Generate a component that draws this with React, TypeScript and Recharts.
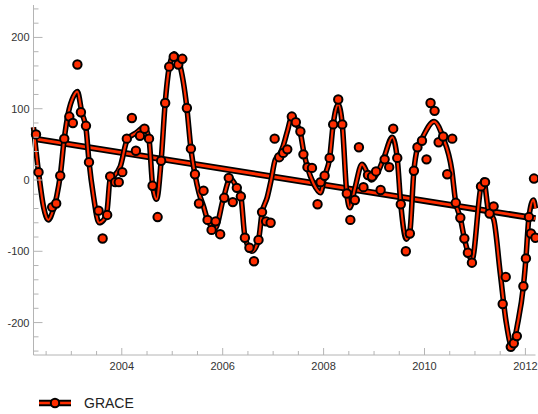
import React from 'react';
import { ComposedChart, Line, Scatter, XAxis, YAxis } from 'recharts';

const RED = '#ff2d00';
const AXIS = '#b4b4b4';
const FONT = '"Liberation Sans", Arial, Helvetica, sans-serif';

// GRACE monthly values
const graceYears = [
  2002.30, 2002.35, 2002.62, 2002.70, 2002.78, 2002.86, 2002.96, 2003.03, 2003.12, 2003.19,
  2003.29, 2003.35, 2003.54, 2003.62, 2003.71, 2003.77, 2003.87, 2003.94, 2004.01, 2004.10,
  2004.20, 2004.28, 2004.36, 2004.45, 2004.54, 2004.61, 2004.71, 2004.78, 2004.86, 2004.94,
  2005.03, 2005.12, 2005.20, 2005.29, 2005.37, 2005.45, 2005.53, 2005.62, 2005.70, 2005.78,
  2005.86, 2005.95, 2006.03, 2006.12, 2006.20, 2006.28, 2006.36, 2006.44, 2006.53, 2006.62,
  2006.71, 2006.78, 2006.86, 2006.95, 2007.03, 2007.12, 2007.20, 2007.28, 2007.37, 2007.45,
  2007.54, 2007.60, 2007.68, 2007.77, 2007.88, 2007.94, 2008.02, 2008.12, 2008.19, 2008.29,
  2008.37, 2008.46, 2008.53, 2008.62, 2008.70, 2008.79, 2008.88, 2008.96, 2009.04, 2009.13,
  2009.21, 2009.30, 2009.38, 2009.46, 2009.53, 2009.63, 2009.71, 2009.79, 2009.86, 2009.95,
  2010.04, 2010.12, 2010.20, 2010.28, 2010.37, 2010.45, 2010.55, 2010.62, 2010.71, 2010.79,
  2010.86, 2010.94, 2011.12, 2011.20, 2011.29, 2011.37, 2011.55, 2011.61, 2011.71, 2011.77,
  2011.83, 2011.96, 2012.01, 2012.07, 2012.11, 2012.17, 2012.20,
];
const graceValues = [
  64, 11, -38, -33, 6, 58, 89, 80, 162, 95,
  76, 25, -43, -82, -49, 5, -3, -3, 11, 58,
  87, 41, 62, 72, 58, -8, -52, 27, 108, 159,
  173, 162, 170, 101, 44, 8, -33, -15, -56, -70,
  -58, -76, -25, 3, -31, -11, -23, -81, -95, -114,
  -84, -45, -58, -60, 58, 32, 38, 43, 89, 81,
  68, 36, 18, 17, -34, -3, 6, 31, 78, 113,
  78, -19, -56, -28, 46, -10, 7, 5, 12, -14,
  29, 18, 72, 31, -34, -100, -75, 13, 46, 55,
  29, 108, 97, 53, 61, 8, 58, -32, -53, -82,
  -102, -116, -9, -3, -47, -37, -174, -136, -234, -229,
  -219, -149, -110, -52, -75, 2, -81,
];

// smoothed curve
const fitYears = [
  2002.25, 2002.35, 2002.45, 2002.545, 2002.64, 2002.71, 2002.78, 2002.86, 2002.94, 2003.04,
  2003.12, 2003.21, 2003.29, 2003.35, 2003.44, 2003.55, 2003.64, 2003.71, 2003.77, 2003.85,
  2003.97, 2004.11, 2004.28, 2004.45, 2004.54, 2004.61, 2004.69, 2004.78, 2004.86, 2004.94,
  2005.04, 2005.14, 2005.29, 2005.37, 2005.45, 2005.53, 2005.62, 2005.70, 2005.85, 2006.01,
  2006.15, 2006.28, 2006.36, 2006.44, 2006.58, 2006.71, 2006.78, 2006.88, 2006.96, 2007.04,
  2007.12, 2007.20, 2007.28, 2007.37, 2007.45, 2007.54, 2007.61, 2007.68, 2007.80, 2007.94,
  2008.02, 2008.12, 2008.19, 2008.29, 2008.37, 2008.46, 2008.52, 2008.62, 2008.76, 2008.95,
  2009.08, 2009.20, 2009.36, 2009.46, 2009.53, 2009.64, 2009.71, 2009.79, 2009.86, 2009.95,
  2010.19, 2010.37, 2010.54, 2010.62, 2010.71, 2010.79, 2010.86, 2010.94, 2011.12, 2011.17,
  2011.27, 2011.37, 2011.50, 2011.62, 2011.73, 2011.85, 2011.96, 2012.01, 2012.07, 2012.16,
  2012.20,
];
const fitValues = [
  74, 11, -38, -56, -42, -23, 6, 58, 94, 117,
  124, 94, 73, 26, -23, -60, -56, -42, 2, 6,
  19, 57, 66, 74, 57, -7, -27, 27, 108, 158,
  177, 164, 101, 44, 8, -18, -37, -56, -68, -27,
  2, -11, -23, -79, -100, -84, -46, -25, 0, 28,
  35, 48, 68, 88, 80, 66, 38, 18, -5, -18,
  5, 31, 78, 106, 78, -19, -39, -12, 22, 0,
  12, 32, 60, 30, -34, -83, -72, 13, 45, 58,
  82, 59, 14, -32, -53, -82, -101, -112, -9, 0,
  -44, -55, -130, -200, -233, -200, -149, -110, -52, -28,
  -40,
];

// linear trend end points
const trendYears = [2002.25, 2012.2];
const trendValues = [58, -54];

const xTicks = [
  2002.5, 2003, 2003.5, 2004, 2004.5, 2005, 2005.5, 2006, 2006.5, 2007,
  2007.5, 2008, 2008.5, 2009, 2009.5, 2010, 2010.5, 2011, 2011.5, 2012,
];
const xLabels = [2004, 2006, 2008, 2010, 2012];
const yTicks = [
  -240, -220, -200, -180, -160, -140, -120, -100, -80, -60, -40, -20, 0,
  20, 40, 60, 80, 100, 120, 140, 160, 180, 200, 220, 240,
];
const yLabels = [-200, -100, 0, 100, 200];

const points = graceYears.map((x, i) => ({ x, y: graceValues[i] }));
const fit = fitYears.map((x, i) => ({ x, y: fitValues[i] }));
const trend = trendYears.map((x, i) => ({ x, y: trendValues[i] }));

const X_DOMAIN = [2002.25, 2012.2];
const Y_DOMAIN = [-245.5, 245.5];

const BottomTick = ({ x, y, payload }: any) => {
  const major = xLabels.includes(payload.value);
  return (
    <g>
      <line x1={x} y1={y} x2={x} y2={y - (major ? 7 : 4)} stroke={AXIS} />
      {major && (
        <text x={x} y={y + 15} textAnchor="middle" fontSize={11} fill="#333" fontFamily={FONT}>
          {payload.value}
        </text>
      )}
    </g>
  );
};

const TopTick = ({ x, y, payload }: any) => {
  const major = xLabels.includes(payload.value);
  return <line x1={x} y1={y} x2={x} y2={y + (major ? 7 : 4)} stroke={AXIS} />;
};

const LeftTick = ({ x, y, payload }: any) => {
  const major = yLabels.includes(payload.value);
  return (
    <g>
      <line x1={x} y1={y} x2={x + (major ? 9 : 5)} y2={y} stroke={AXIS} />
      {major && (
        <text x={x - 4} y={y + 4} textAnchor="end" fontSize={11} fill="#333" fontFamily={FONT}>
          {payload.value}
        </text>
      )}
    </g>
  );
};

const RightTick = ({ x, y, payload }: any) => {
  const major = yLabels.includes(payload.value);
  return <line x1={x} y1={y} x2={x - (major ? 9 : 5)} y2={y} stroke={AXIS} />;
};

const Dot = ({ cx, cy }: any) => (
  <circle cx={cx} cy={cy} r={4.2} fill={RED} stroke="#000" strokeWidth={2} />
);

export default function App() {
  return (
    <div style={{ position: 'absolute', left: 0, top: 0, width: 538, height: 414, background: '#fff' }}>
      <ComposedChart width={538} height={414} margin={{ top: 5, right: 2.5, bottom: 39, left: 0 }}>
        <XAxis
          type="number"
          dataKey="x"
          domain={X_DOMAIN}
          ticks={xTicks}
          interval={0}
          height={20}
          tickSize={0}
          tickMargin={0}
          tickLine={false}
          tick={<BottomTick />}
          axisLine={{ stroke: AXIS }}
        />
        <XAxis
          xAxisId="top"
          orientation="top"
          type="number"
          dataKey="x"
          domain={X_DOMAIN}
          allowDataOverflow
          ticks={xTicks}
          interval={0}
          height={0}
          tickSize={0}
          tickMargin={0}
          tickLine={false}
          tick={<TopTick />}
          axisLine={{ stroke: AXIS }}
        />
        <YAxis
          type="number"
          domain={Y_DOMAIN}
          ticks={yTicks}
          interval={0}
          width={33.5}
          tickSize={0}
          tickMargin={0}
          tickLine={false}
          tick={<LeftTick />}
          axisLine={{ stroke: AXIS }}
        />
        <YAxis
          yAxisId="right"
          orientation="right"
          type="number"
          domain={Y_DOMAIN}
          allowDataOverflow
          ticks={yTicks}
          interval={0}
          width={0}
          tickSize={0}
          tickMargin={0}
          tickLine={false}
          tick={<RightTick />}
          axisLine={{ stroke: AXIS }}
        />
        <Line data={trend} dataKey="y" type="linear" stroke="#000" strokeWidth={6.5} dot={false} isAnimationActive={false} />
        <Line data={trend} dataKey="y" type="linear" stroke={RED} strokeWidth={2.8} dot={false} isAnimationActive={false} />
        <Line data={fit} dataKey="y" type="monotone" stroke="#000" strokeWidth={5.5} dot={false} isAnimationActive={false} />
        <Line data={fit} dataKey="y" type="monotone" stroke={RED} strokeWidth={2.2} dot={false} isAnimationActive={false} />
        <Scatter data={points} dataKey="y" shape={<Dot />} isAnimationActive={false} />
      </ComposedChart>
      <svg width={160} height={24} style={{ position: 'absolute', left: 30, top: 391 }}>
        <line x1={9} y1={12} x2={41} y2={12} stroke="#000" strokeWidth={6.5} />
        <line x1={9} y1={12} x2={41} y2={12} stroke={RED} strokeWidth={2.6} />
        <circle cx={25} cy={12} r={4.2} fill={RED} stroke="#000" strokeWidth={2} />
        <text x={54} y={17} fontSize={14} fill="#222" fontFamily={FONT}>GRACE</text>
      </svg>
    </div>
  );
}
